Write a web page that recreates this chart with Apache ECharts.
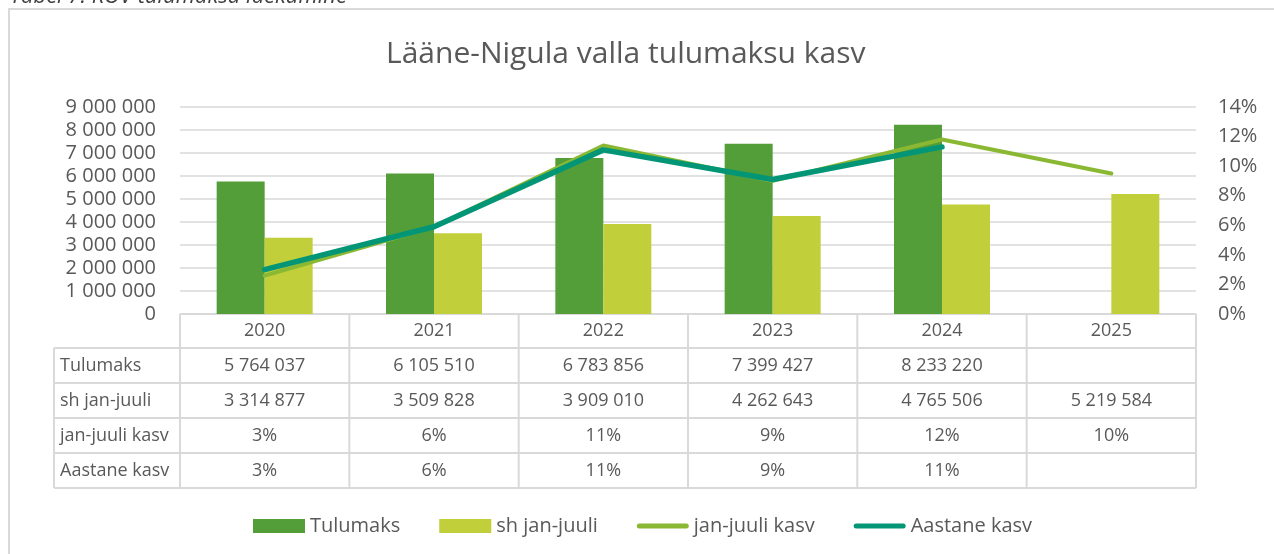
<!DOCTYPE html>
<html>
<head>
<meta charset="utf-8">
<script src="https://cdn.jsdelivr.net/npm/echarts@6/dist/echarts.min.js"></script>
<style>
	html, body { margin: 0; padding: 0; background: #fff; }
	#chart { width: 1274px; height: 554px; }
</style>
</head>
<body>
<div id="chart"></div>
<script>
var years = ['2020', '2021', '2022', '2023', '2024', '2025']
var tulumaks = [5764037, 6105510, 6783856, 7399427, 8233220, null]
var janJuuli = [3314877, 3509828, 3909010, 4262643, 4765506, 5219584]
var janJuuliKasv = [2.6, 5.9, 11.4, 9.0, 11.8, 9.5]
var aastaneKasv = [3.0, 5.9, 11.1, 9.1, 11.3, null]
var rowNames = ['Tulumaks', 'sh jan-juuli', 'jan-juuli kasv', 'Aastane kasv']

var FONT = '"Open Sans", "Noto Sans", sans-serif'
var TEXT = '#595959'
var BORDER = '#d9d9d9'

function spaced(v) {
	if (v === null || v === undefined) return ''
	return String(v).replace(/\B(?=(\d{3})+(?!\d))/g, ' ')
}
function pct(v) {
	if (v === null || v === undefined) return ''
	return Math.round(v) + '%'
}

var lineIcon = 'path://M0,0M52,14M2.5,4.5L49.5,4.5A2.5,2.5,0,0,1,49.5,9.5L2.5,9.5A2.5,2.5,0,0,1,2.5,4.5Z'

var chart = echarts.init(document.getElementById('chart'))
var option = {
	animation: false,
	backgroundColor: '#fff',
	title: {
		text: 'Lääne-Nigula valla tulumaksu kasv',
		left: 381,
		top: 34,
		textStyle: { fontFamily: FONT, fontSize: 30, fontWeight: 'normal', color: TEXT },
	},
	legend: {
		left: 248,
		top: 511,
		itemWidth: 52,
		itemHeight: 14,
		itemGap: 39,
		textStyle: { fontFamily: FONT, fontSize: 20, color: TEXT },
		data: [
			{ name: 'Tulumaks', icon: 'rect' },
			{ name: 'sh jan-juuli', icon: 'rect' },
			{ name: 'jan-juuli kasv', icon: lineIcon },
			{ name: 'Aastane kasv', icon: lineIcon },
		],
	},
	grid: { left: 180, right: 78, top: 107, bottom: 240 },
	xAxis: {
		type: 'category',
		data: years,
		axisLine: { show: false },
		axisTick: { show: false },
		axisLabel: { show: false },
	},
	yAxis: [
		{
			type: 'value',
			min: 0,
			max: 9000000,
			interval: 1000000,
			axisLine: { show: false },
			axisTick: { show: false },
			axisLabel: { margin: 24, color: TEXT, fontFamily: FONT, fontSize: 20, formatter: spaced },
			splitLine: { lineStyle: { color: BORDER, width: 1.5 } },
		},
		{
			type: 'value',
			min: 0,
			max: 14,
			interval: 2,
			position: 'right',
			axisLine: { show: false },
			axisTick: { show: false },
			axisLabel: { margin: 22, color: TEXT, fontFamily: FONT, fontSize: 20, formatter: '{value}%' },
			splitLine: { show: false },
		},
	],
	series: [
		{
			name: 'Tulumaks',
			type: 'bar',
			barWidth: 48,
			barGap: '0%',
			itemStyle: { color: '#549e39' },
			data: tulumaks,
		},
		{
			name: 'sh jan-juuli',
			type: 'bar',
			barWidth: 48,
			barGap: '0%',
			itemStyle: { color: '#c0cf3a' },
			data: janJuuli,
		},
		{
			name: 'jan-juuli kasv',
			type: 'line',
			yAxisIndex: 1,
			symbol: 'none',
			z: 3,
			itemStyle: { color: '#8ab833' },
			lineStyle: { color: '#8ab833', width: 4, cap: 'round', join: 'round' },
			data: janJuuliKasv,
		},
		{
			name: 'Aastane kasv',
			type: 'line',
			yAxisIndex: 1,
			symbol: 'none',
			z: 4,
			itemStyle: { color: '#029676' },
			lineStyle: { color: '#029676', width: 5.5, cap: 'round', join: 'round' },
			data: aastaneKasv,
		},
	],
}
chart.setOption(option)

// data table under the plot, columns follow the category axis
var centers = years.map(function (y, i) {
	return chart.convertToPixel({ xAxisIndex: 0 }, i)
})
var colW = centers[1] - centers[0]
var tableLeft = 54
var colLeft = centers[0] - colW / 2
var colRight = centers[centers.length - 1] + colW / 2
var rowY = [314, 348, 383, 418, 453, 488]
var rows = [
	tulumaks.map(spaced),
	janJuuli.map(spaced),
	janJuuliKasv.map(pct),
	aastaneKasv.map(pct),
]

var elements = []
var lineStyle = { stroke: BORDER, lineWidth: 2 }
rowY.forEach(function (y, i) {
	elements.push({
		type: 'line',
		shape: { x1: i === 0 ? colLeft : tableLeft, y1: y, x2: colRight, y2: y },
		style: lineStyle,
	})
})
for (var c = 0; c <= years.length; c++) {
	var x = colLeft + c * colW
	elements.push({ type: 'line', shape: { x1: x, y1: rowY[0], x2: x, y2: rowY[5] }, style: lineStyle })
}
elements.push({ type: 'line', shape: { x1: tableLeft, y1: rowY[1], x2: tableLeft, y2: rowY[5] }, style: lineStyle })

var cellFont = '18px ' + FONT
years.forEach(function (y, i) {
	elements.push({
		type: 'text',
		style: { text: y, x: centers[i], y: (rowY[0] + rowY[1]) / 2, textAlign: 'center', textVerticalAlign: 'middle', font: cellFont, fill: TEXT },
	})
})
rows.forEach(function (vals, r) {
	var cy = (rowY[r + 1] + rowY[r + 2]) / 2
	elements.push({
		type: 'text',
		style: { text: rowNames[r], x: 60, y: cy, textAlign: 'left', textVerticalAlign: 'middle', font: cellFont, fill: TEXT },
	})
	vals.forEach(function (v, i) {
		elements.push({
			type: 'text',
			style: { text: v, x: centers[i], y: cy, textAlign: 'center', textVerticalAlign: 'middle', font: cellFont, fill: TEXT },
		})
	})
})

// outer chart frame and the cut caption above it
elements.push({
	type: 'rect',
	shape: { x: 9, y: 9, width: 1300, height: 600 },
	style: { fill: null, stroke: BORDER, lineWidth: 2 },
})
elements.push({
	type: 'text',
	style: { text: 'Tabel 7. KOV tulumaksu laekumine', x: 10, y: 8, textAlign: 'left', textVerticalAlign: 'bottom', font: 'italic 22px ' + FONT, fill: '#404040' },
})

chart.setOption({ graphic: { elements: elements } })
</script>
</body>
</html>
